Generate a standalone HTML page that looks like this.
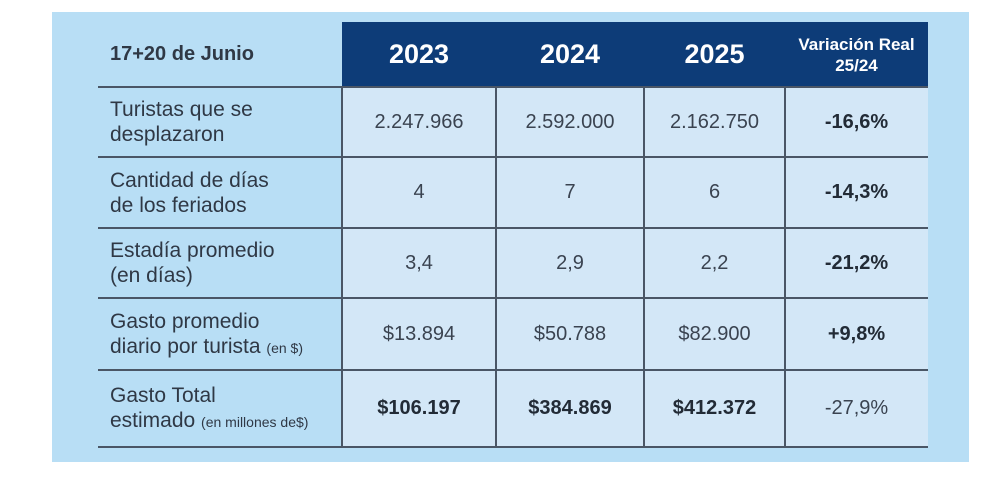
<!DOCTYPE html>
<html><head><meta charset="utf-8"><style>
body{margin:0;width:992px;height:485px;background:#fff;position:relative;overflow:hidden;font-family:"Liberation Sans",sans-serif;color:#2a3340}
.box{position:absolute;left:52px;top:12px;width:917px;height:450px;background:#b8def5}
.hdr{position:absolute;left:342px;top:22px;width:586px;height:65px;background:#0d3c78}
.cell{position:absolute;background:#d3e7f7}
.h{position:absolute;height:2px;background:#4a5666;left:98px;width:830px}
.v{position:absolute;width:2px;background:#4a5666}
.t{position:absolute;display:flex;align-items:center;justify-content:center;text-align:center;font-size:20px;color:#3a4350}
.l{position:absolute;left:110px;font-size:21px;line-height:25px;color:#2f3845}
.y{position:absolute;top:22px;height:65px;display:flex;align-items:center;justify-content:center;color:#fff;font-weight:bold;font-size:27px}
b{color:#222b36}
small{font-size:14px}
</style></head><body>
<div class="box"></div>
<div class="cell" style="left:342px;top:87px;width:586px;height:361px"></div>
<div class="hdr"></div>
<div class="l" style="top:42px;font-weight:bold;font-size:20px">17+20 de Junio</div>
<div class="y" style="left:342px;width:154px">2023</div>
<div class="y" style="left:496px;width:148px">2024</div>
<div class="y" style="left:644px;width:141px">2025</div>
<div class="y" style="left:785px;width:143px;font-size:17px;line-height:21px;flex-direction:column">Variación Real<span>25/24</span></div>
<div class="h" style="top:86px"></div>
<div class="h" style="top:156px"></div>
<div class="h" style="top:227px"></div>
<div class="h" style="top:297px"></div>
<div class="h" style="top:369px"></div>
<div class="h" style="top:446px"></div>
<div class="v" style="left:341px;top:87px;height:361px"></div>
<div class="v" style="left:495px;top:87px;height:361px"></div>
<div class="v" style="left:643px;top:87px;height:361px"></div>
<div class="v" style="left:784px;top:87px;height:361px"></div>
<div class="l" style="top:97px">Turistas que se<br>desplazaron</div>
<div class="l" style="top:168px">Cantidad de días<br>de los feriados</div>
<div class="l" style="top:238px">Estadía promedio<br>(en días)</div>
<div class="l" style="top:309px">Gasto promedio<br>diario por turista <small>(en $)</small></div>
<div class="l" style="top:383px">Gasto Total<br>estimado <small>(en millones de$)</small></div>

<div class="t" style="left:342px;width:154px;top:87px;height:70px">2.247.966</div>
<div class="t" style="left:496px;width:148px;top:87px;height:70px">2.592.000</div>
<div class="t" style="left:644px;width:141px;top:87px;height:70px">2.162.750</div>
<div class="t" style="left:785px;width:143px;top:87px;height:70px"><b>-16,6%</b></div>

<div class="t" style="left:342px;width:154px;top:157px;height:70px">4</div>
<div class="t" style="left:496px;width:148px;top:157px;height:70px">7</div>
<div class="t" style="left:644px;width:141px;top:157px;height:70px">6</div>
<div class="t" style="left:785px;width:143px;top:157px;height:70px"><b>-14,3%</b></div>

<div class="t" style="left:342px;width:154px;top:228px;height:70px">3,4</div>
<div class="t" style="left:496px;width:148px;top:228px;height:70px">2,9</div>
<div class="t" style="left:644px;width:141px;top:228px;height:70px">2,2</div>
<div class="t" style="left:785px;width:143px;top:228px;height:70px"><b>-21,2%</b></div>

<div class="t" style="left:342px;width:154px;top:298px;height:72px">$13.894</div>
<div class="t" style="left:496px;width:148px;top:298px;height:72px">$50.788</div>
<div class="t" style="left:644px;width:141px;top:298px;height:72px">$82.900</div>
<div class="t" style="left:785px;width:143px;top:298px;height:72px"><b>+9,8%</b></div>

<div class="t" style="left:342px;width:154px;top:370px;height:77px"><b>$106.197</b></div>
<div class="t" style="left:496px;width:148px;top:370px;height:77px"><b>$384.869</b></div>
<div class="t" style="left:644px;width:141px;top:370px;height:77px"><b>$412.372</b></div>
<div class="t" style="left:785px;width:143px;top:370px;height:77px">-27,9%</div>
</body></html>
